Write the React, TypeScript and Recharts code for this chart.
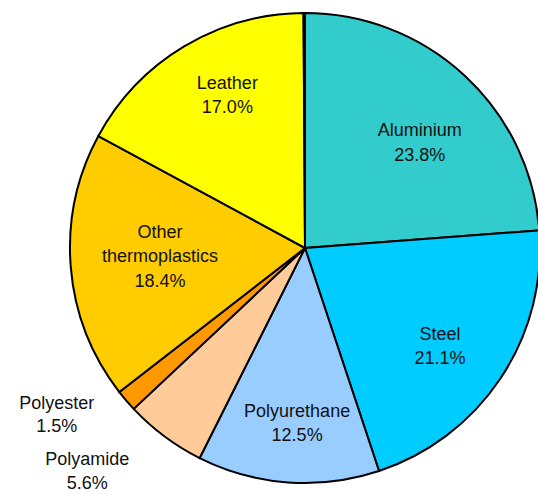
import React from "react";
import { PieChart, Pie, Cell } from "recharts";

const materials = ["Aluminium", "Steel", "Polyurethane", "Polyamide", "Polyester", "Other thermoplastics", "Leather", "Other"];
const shares = [23.8, 21.1, 12.5, 5.6, 1.5, 18.4, 17.0, 0.1];
const colors = ["#33CCCC", "#00CCFF", "#99CCFF", "#FFCC99", "#FF9900", "#FFCC00", "#FFFF00", "#FFFFFF"];

const data = materials.map((name, i) => ({ name, value: shares[i] }));

const RAD = Math.PI / 180;
const adjust: Record<string, { k: number; dx: number; dy: number; lh: number }> = {
  Aluminium: { k: 0.7, dx: 3, dy: 15, lh: 24.5 },
  Steel: { k: 0.7, dx: -2, dy: 7, lh: 24.5 },
  Polyurethane: { k: 0.7, dx: 4, dy: 11, lh: 24.5 },
  Polyamide: { k: 1.3, dx: -35, dy: -22, lh: 23.5 },
  Polyester: { k: 1.3, dx: -16, dy: -32, lh: 23 },
  "Other thermoplastics": { k: 0.7, dx: 19, dy: -5, lh: 24.5 },
  Leather: { k: 0.7, dx: 7, dy: -12, lh: 24.5 },
};

const renderLabel = (props: any) => {
  const { cx, cy, midAngle, outerRadius, name, value, index } = props;
  const a = adjust[name];
  if (!a) return null;
  const r = outerRadius * a.k;
  const x = cx + r * Math.cos(-midAngle * RAD) + a.dx;
  const y = cy + r * Math.sin(-midAngle * RAD) + a.dy;
  const lines = [...String(name).split(" "), `${Number(value).toFixed(1)}%`];
  const lh = a.lh;
  const y0 = y - ((lines.length - 1) * lh) / 2;
  return (
    <text
      key={`lbl-${index}`}
      x={x}
      y={y0}
      textAnchor="middle"
      dominantBaseline="central"
      fill="#111"
      fontSize={18}
      fontFamily="'Liberation Sans', Arial, sans-serif"
    >
      {lines.map((l, i) => (
        <tspan key={i} x={x} y={y0 + i * lh} dominantBaseline="central">
          {l}
        </tspan>
      ))}
    </text>
  );
};

export default function App() {
  return (
    <div style={{ position: "absolute", left: 0, top: 0, width: 538, height: 493, background: "#fff" }}>
      <PieChart width={538} height={493} margin={{ top: 0, right: 0, bottom: 0, left: 0 }}>
        <Pie
          data={data}
          dataKey="value"
          nameKey="name"
          cx={305}
          cy={248}
          outerRadius={235}
          startAngle={90}
          endAngle={-270}
          stroke="#000"
          strokeWidth={2}
          label={renderLabel}
          labelLine={false}
          isAnimationActive={false}
        >
          {data.map((d, i) => (
            <Cell key={d.name} fill={colors[i]} />
          ))}
        </Pie>
      </PieChart>
    </div>
  );
}
